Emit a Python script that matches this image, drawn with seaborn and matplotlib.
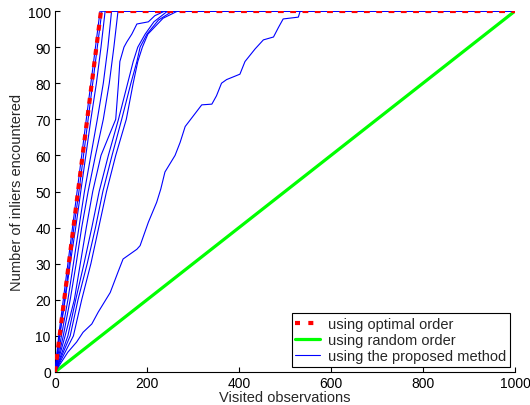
import numpy as np
import pandas as pd
import matplotlib
matplotlib.use("Agg")
import matplotlib.pyplot as plt
import seaborn as sns
from matplotlib.lines import Line2D

# ---- data ----
optimal_x = [0, 100, 1000]
optimal_y = [0, 100, 100]
random_x = [0, 1000]
random_y = [0, 100]

levels = [0, 10, 20, 30, 40, 50, 60, 70, 80, 90, 100]
curve_a = [0, 8, 18, 28, 38, 48, 58, 68, 78, 88, 98]
curve_a2 = [0, 10, 21, 31, 41, 52, 62, 72, 82, 92, 102]
curve_b = [0, 10, 22, 33, 45, 56, 67, 78, 90, 100, 109]
curve_c = [0, 14, 28, 40, 52, 64, 78, 92, 105, 115, 123]
curve_d = [0, 18, 33, 46, 58, 72, 88, 105, 118, 128, 137]

curve_e_x = [0, 22, 42, 55, 68, 82, 100, 132, 138, 141, 150, 156, 167, 178, 203, 217, 239]
curve_e_y = [0, 10, 20, 30, 40, 50, 60, 70, 80, 86, 90, 91.4, 93.6, 96.4, 97, 98.7, 100]
curve_f_x = [0, 28, 45, 63, 80, 96, 116, 138, 158, 170, 180, 196, 215, 245]
curve_f_y = [0, 10, 20, 30, 40, 50, 60, 70, 80, 86, 90, 93.6, 97, 100]
curve_g_x = [0, 33, 50, 70, 88, 104, 124, 145, 165, 178, 185, 200, 225, 256]
curve_g_y = [0, 10, 20, 30, 40, 50, 60, 70, 80, 86, 90, 93.6, 97.5, 100]
curve_h_x = [0, 40, 58, 78, 95, 112, 132, 155, 170, 180, 190, 202, 235, 267]
curve_h_y = [0, 10, 20, 30, 40, 50, 60, 70, 80, 86, 90, 93.6, 98, 100]

curve_long_x = [0, 28, 47, 61, 80, 94, 120, 137, 148, 178, 185, 203, 221, 230,
                239, 261, 272, 283, 304, 319, 341, 351, 362, 373, 402, 413,
                435, 453, 475, 486, 496, 529, 533]
curve_long_y = [0, 5.5, 8.3, 11, 13.3, 16.6, 22, 27.7, 31.3, 34, 35, 41.5, 47, 50.7,
                55.4, 60, 63.6, 68, 71.5, 74, 74.2, 76.5, 80, 81, 82.5, 86,
                89.5, 92, 92.8, 95.5, 97.8, 98.3, 100]

x_end = 1000

# ---- style ----
sns.set_style("ticks")
plt.rcParams["font.family"] = ["Liberation Sans", "DejaVu Sans"]
plt.rcParams["xtick.direction"] = "in"
plt.rcParams["ytick.direction"] = "in"

fig = plt.figure(figsize=(5.30, 4.06), dpi=100)
ax = fig.add_axes([55 / 530, 33 / 406, 460 / 530, 361 / 406])

blue = "#0000ff"
curves = [
    (curve_a, levels), (curve_a2, levels), (curve_b, levels), (curve_c, levels),
    (curve_d, levels), (curve_e_x, curve_e_y), (curve_f_x, curve_f_y),
    (curve_g_x, curve_g_y), (curve_h_x, curve_h_y), (curve_long_x, curve_long_y),
]
for cx, cy in curves:
    xs = list(cx) + [x_end]
    ys = list(cy) + [100]
    df = pd.DataFrame({"x": xs, "y": ys})
    sns.lineplot(data=df, x="x", y="y", ax=ax, color=blue, lw=0.8,
                 estimator=None, sort=False, zorder=3)

sns.lineplot(x=random_x, y=random_y, ax=ax, color="#00ff00", lw=2.3,
             estimator=None, sort=False, zorder=2)
sns.lineplot(x=optimal_x, y=optimal_y, ax=ax, color="#ff0000", lw=3.0,
             estimator=None, sort=False, zorder=4,
             linestyle=(0, (1.4, 1.55)))

ax.set_xlim(0, 1000)
ax.set_ylim(0, 100)
ax.set_xticks(range(0, 1001, 200))
ax.set_yticks(range(0, 101, 10))
ax.tick_params(labelsize=10, length=3.5, width=0.8, pad=3, colors="black")
for s in ["top", "right"]:
    ax.spines[s].set_visible(False)
for s in ["left", "bottom"]:
    ax.spines[s].set_color("black")
    ax.spines[s].set_linewidth(0.8)

ax.set_xlabel("Visited observations", fontsize=10.5, labelpad=0)
ax.set_ylabel("Number of inliers encountered", fontsize=10.5, labelpad=3)

handles = [
    Line2D([], [], color="#ff0000", lw=3.0, linestyle=(0, (1.2, 2.0))),
    Line2D([], [], color="#00ff00", lw=2.3),
    Line2D([], [], color=blue, lw=0.8),
]
labels = ["using optimal order", "using random order", "using the proposed method"]
leg = ax.legend(handles, labels, loc="lower right", fontsize=10.5, frameon=True,
                fancybox=False, framealpha=1, edgecolor="black",
                handlelength=1.7, handletextpad=0.55, labelspacing=0.15,
                borderpad=0.25, borderaxespad=0.35)
leg.get_frame().set_linewidth(0.8)

fig.savefig("out.png", dpi=100)
